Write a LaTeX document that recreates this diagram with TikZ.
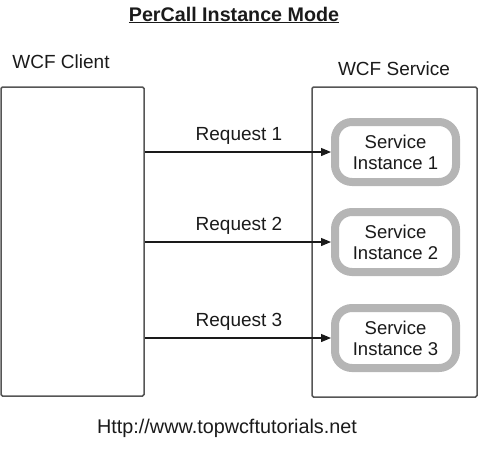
\documentclass[tikz,border=0pt]{standalone}
\usepackage{fontspec}
\setmainfont{Liberation Sans}
\usetikzlibrary{arrows.meta}
\definecolor{txt}{HTML}{1A1A1A}
\definecolor{boxline}{HTML}{555555}
\definecolor{instline}{HTML}{B5B5B5}
\begin{document}
\begin{tikzpicture}[x=1pt,y=-1pt,
  lbl/.style={font=\fontsize{19}{22}\selectfont, text=txt, inner sep=0pt, anchor=base},
  outerbox/.style={draw=boxline, line width=1.5pt, rounded corners=1.5pt},
  inst/.style={draw=instline, line width=8pt, rounded corners=17pt, fill=white,
    minimum width=121pt, minimum height=60pt, align=center, text=txt,
    font=\fontsize{18.5}{21}\selectfont, inner sep=0pt},
  req/.style={draw=txt, line width=1.2pt, -{Triangle[length=10pt,width=8pt]}}]
\useasboundingbox (0,0) rectangle (500,453);
\node[lbl, font=\bfseries\fontsize{19.7}{22}\selectfont] (title) at (234,21) {\underline{PerCall Instance Mode}};
\node[lbl] (clientlbl) at (61,68) {WCF Client};
\node[lbl] (servicelbl) at (394,75) {WCF Service};
\node[outerbox, minimum width=143pt, minimum height=309pt, inner sep=0pt] (client) at (72.5,241.5) {};
\node[outerbox, minimum width=165pt, minimum height=310pt, inner sep=0pt] (service) at (394.5,242) {};
\node[inst] (i1) at (395.5,152) {Service\\Instance 1};
\node[inst] (i2) at (395.5,242) {Service\\Instance 2};
\node[inst] (i3) at (395.5,338) {Service\\Instance 3};
\draw[req] (client.east |- i1.west) -- (i1.west);
\draw[req] (client.east |- i2.west) -- (i2.west);
\draw[req] (client.east |- i3.west) -- (i3.west);
\node[lbl] (r1) at (239,140) {Request 1};
\node[lbl] (r2) at (239,230) {Request 2};
\node[lbl] (r3) at (239,326) {Request 3};
\node[lbl, font=\fontsize{19.8}{22}\selectfont] (url) at (227,433) {Http://www.topwcftutorials.net};
\end{tikzpicture}
\end{document}
